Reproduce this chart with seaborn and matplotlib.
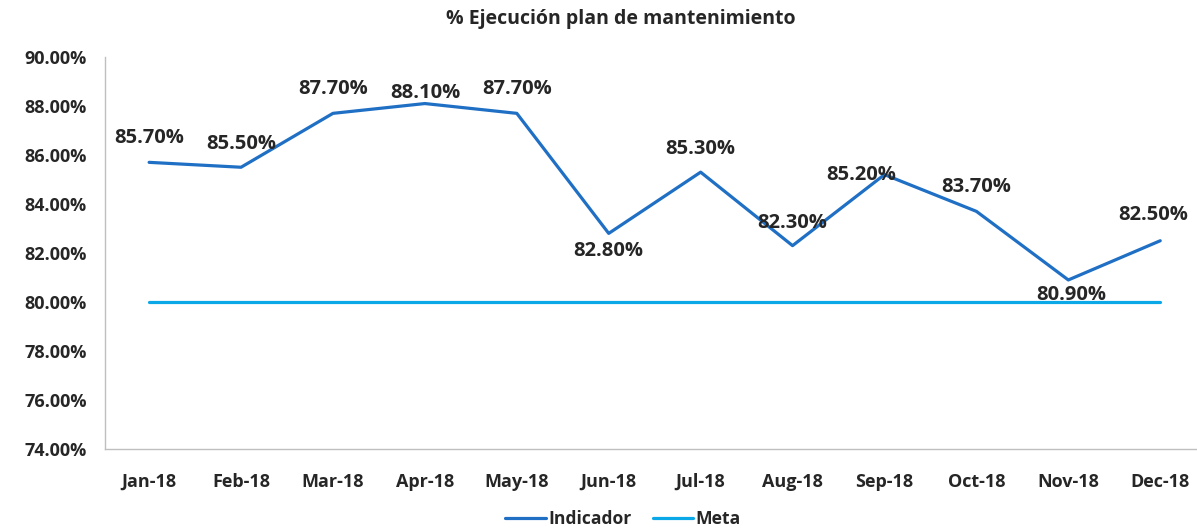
import numpy as np
import pandas as pd
import matplotlib.pyplot as plt
import seaborn as sns

months = ["Jan-18", "Feb-18", "Mar-18", "Apr-18", "May-18", "Jun-18",
          "Jul-18", "Aug-18", "Sep-18", "Oct-18", "Nov-18", "Dec-18"]
indicador = [85.7, 85.5, 87.7, 88.1, 87.7, 82.8, 85.3, 82.3, 85.2, 83.7, 80.9, 82.5]
meta = [80.0] * 12

# label offsets in pixels (dx, dy) relative to each point
label_offsets = [(0, 24), (0, 23), (0, 24), (0, 11), (0, 24), (0, -18),
                 (0, 23), (0, 23), (-23, 0), (0, 24), (3, -15), (-7, 26)]

sns.set_style("white")
plt.rcParams['font.family'] = ['Open Sans', 'DejaVu Sans']
text_color = "#262626"

df = pd.DataFrame({"x": np.arange(len(months)), "Indicador": indicador, "Meta": meta})
long = df.melt(id_vars="x", var_name="serie", value_name="valor")

fig = plt.figure(figsize=(11.97, 5.31), dpi=100)
ax = fig.add_axes([105 / 1197, 1 - 449 / 531, 1 - 105 / 1197, (449 - 57) / 531])

sns.lineplot(data=long, x="x", y="valor", hue="serie",
             palette={"Indicador": "#1F6FC5", "Meta": "#0AA8E6"},
             linewidth=2.3, ax=ax, legend=False)

for i, v in enumerate(indicador):
    dx, dy = label_offsets[i]
    ax.annotate(f"{v:.2f}%", (i, v), xytext=(dx, dy), textcoords="offset pixels",
                ha="center", va="center", fontsize=14.5, fontweight="bold", color=text_color)

ax.set_xlim(-0.48, 11.4)
ax.set_ylim(74, 90)
ax.set_yticks(np.arange(74, 91, 2))
ax.set_yticklabels([f"{t:.2f}%" for t in np.arange(74, 91, 2)])
ax.set_xticks(range(len(months)))
ax.set_xticklabels(months)
ax.set_xlabel("")
ax.set_ylabel("")
ax.tick_params(length=0, labelsize=13, colors=text_color)
ax.tick_params(axis="x", pad=17)
ax.tick_params(axis="y", pad=13)
for lab in ax.get_xticklabels() + ax.get_yticklabels():
    lab.set_fontweight("bold")

for s in ["top", "right"]:
    ax.spines[s].set_visible(False)
for s in ["left", "bottom"]:
    ax.spines[s].set_color("#BFBFBF")
    ax.spines[s].set_linewidth(1)

fig.text(621 / 1197, 1 - 19 / 531, "% Ejecución plan de mantenimiento", ha="center", va="center",
         fontsize=14, fontweight="bold", color=text_color)

handles = [plt.Line2D([], [], color="#1F6FC5", lw=2.3), plt.Line2D([], [], color="#0AA8E6", lw=2.3)]
leg = fig.legend(handles, ["Indicador", "Meta"], loc="center", bbox_to_anchor=(623 / 1197, 1 - 519 / 531),
                 ncol=2, frameon=False, handlelength=2.3, handletextpad=0.15, columnspacing=1.2,
                 prop={"size": 12.6, "weight": "bold"})
for t in leg.get_texts():
    t.set_color(text_color)

fig.savefig("out.png", dpi=100)
